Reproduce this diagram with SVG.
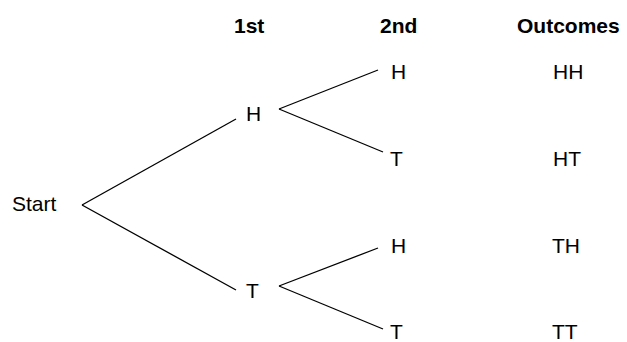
<svg xmlns="http://www.w3.org/2000/svg" width="627" height="342" viewBox="0 0 627 342">
<style>
text{font-family:"Liberation Sans",Arial,sans-serif;font-size:21px;fill:#000}
.hd{font-weight:bold}
.ln{stroke:#000;stroke-width:1.3;fill:none}
</style>
<rect width="627" height="342" fill="#fff"/>
<g id="headers">
<text class="hd" x="234" y="33">1st</text>
<text class="hd" x="380" y="33">2nd</text>
<text class="hd" x="517" y="33">Outcomes</text>
</g>
<g id="connectors">
<line class="ln" x1="82" y1="205" x2="236" y2="119"/>
<line class="ln" x1="82" y1="205" x2="236" y2="290"/>
<line class="ln" x1="279" y1="109" x2="378" y2="70"/>
<line class="ln" x1="279" y1="109" x2="383" y2="152"/>
<line class="ln" x1="279" y1="286" x2="378" y2="248"/>
<line class="ln" x1="279" y1="286" x2="383" y2="329"/>
</g>
<g id="start"><text x="12" y="211">Start</text></g>
<g id="n1H"><text x="246" y="121">H</text></g>
<g id="n1T"><text x="246" y="298">T</text></g>
<g id="n2HH"><text x="391" y="79">H</text></g>
<g id="n2HT"><text x="390" y="166">T</text></g>
<g id="n2TH"><text x="391" y="253">H</text></g>
<g id="n2TT"><text x="390" y="339">T</text></g>
<g id="outcomes">
<text x="553" y="79">HH</text>
<text x="553" y="166">HT</text>
<text x="552" y="253">TH</text>
<text x="552" y="339">TT</text>
</g>
</svg>
